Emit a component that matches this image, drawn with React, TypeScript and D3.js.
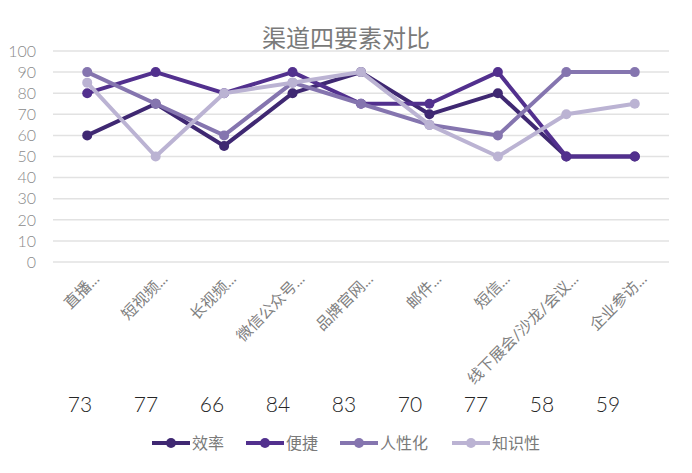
import React from "react";
import * as d3 from "d3";

const categories = ["直播...", "短视频...", "长视频...", "微信公众号...", "品牌官网...", "邮件...", "短信...", "线下展会/沙龙/会议...", "企业参访..."];
const seriesNames = ["效率", "便捷", "人性化", "知识性"];
const efficiency = [60, 75, 55, 80, 90, 70, 80, 50, 50];
const convenience = [80, 90, 80, 90, 75, 75, 90, 50, 50];
const humanity = [90, 75, 60, 85, 75, 65, 60, 90, 90];
const knowledge = [85, 50, 80, 85, 90, 65, 50, 70, 75];
const scores = [73, 77, 66, 84, 83, 70, 77, 58, 59];
const yTicks = [0, 10, 20, 30, 40, 50, 60, 70, 80, 90, 100];
const colors = ["#3f2872", "#52308e", "#8575af", "#bbb3d3"];

const W = 692;
const H = 473;
const FONT = "Lato, 'Noto Sans CJK SC', sans-serif";

export default function App() {
  const seriesData = [efficiency, convenience, humanity, knowledge];
  const x = d3.scaleBand<string>().domain(categories).range([53, 669]);
  const cx = (c: string) => (x(c) as number) + x.bandwidth() / 2;
  const y = d3.scaleLinear().domain([0, 100]).range([262, 51]);
  const scoreX = d3.scalePoint<number>().domain(d3.range(scores.length)).range([80, 608]);
  const line = d3
    .line<number>()
    .x((_, i) => cx(categories[i]))
    .y((d) => y(d));

  const legendX = d3.scaleOrdinal<string, number>().domain(seriesNames).range([152, 246, 340, 452]);

  return (
    <svg width={W} height={H} style={{ position: "absolute", left: 0, top: 0, background: "#fff" }}>
      <text x={346} y={47} textAnchor="middle" fontSize={24} fill="#7a7a7a" fontFamily={FONT}>
        渠道四要素对比
      </text>
      {yTicks.map((t) => (
        <g key={t}>
          <line x1={53} x2={669} y1={y(t)} y2={y(t)} stroke="#e2e2e2" strokeWidth={1.5} />
          <text x={36} y={y(t)} dy="0.36em" textAnchor="end" fontSize={16} fill="#8a8a8a" fontFamily={FONT} fontWeight={300}>
            {t}
          </text>
        </g>
      ))}
      {categories.map((c) => (
        <text
          key={c}
          transform={`translate(${cx(c) + 13},${280}) rotate(-45)`}
          textAnchor="end"
          fontSize={15.5}
          fill="#808080"
          fontFamily={FONT}
        >
          {c}
        </text>
      ))}
      {seriesData.map((s, si) => (
        <g key={seriesNames[si]}>
          <path d={line(s) as string} fill="none" stroke={colors[si]} strokeWidth={4} strokeLinejoin="round" />
          {s.map((v, i) => (
            <circle key={i} cx={cx(categories[i])} cy={y(v)} r={5} fill={colors[si]} />
          ))}
        </g>
      ))}
      {scores.map((s, i) => (
        <text key={i} x={scoreX(i)} y={412} textAnchor="middle" fontSize={21} fill="#262626" fontFamily={FONT} fontWeight={300}>
          {s}
        </text>
      ))}
      {seriesNames.map((n, i) => {
        const lx = legendX(n);
        return (
          <g key={n}>
            <line x1={lx} x2={lx + 38} y1={443} y2={443} stroke={colors[i]} strokeWidth={4} />
            <circle cx={lx + 19} cy={443} r={5} fill={colors[i]} />
            <text x={lx + 40} y={443} dy="0.36em" fontSize={16} fill="#7a7a7a" fontFamily={FONT}>
              {n}
            </text>
          </g>
        );
      })}
    </svg>
  );
}
